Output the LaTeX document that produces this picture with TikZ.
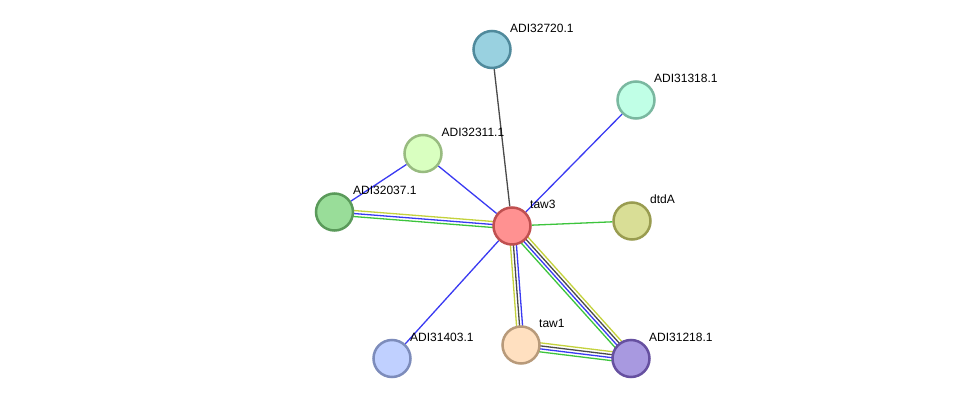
\documentclass[tikz,border=0pt]{standalone}
\usepackage{fontspec}
\setmainfont{Liberation Sans}
\usetikzlibrary{calc,backgrounds}
\definecolor{eyel}{HTML}{C4D23C}
\definecolor{eblu}{HTML}{3A3AF2}
\definecolor{egrn}{HTML}{3CC43C}
\definecolor{eblk}{HTML}{4A4A4A}
\tikzset{
  prot/.style={circle,minimum size=37pt,inner sep=0pt,line width=2.5pt},
  lab/.style={anchor=west,inner sep=0pt,font=\fontsize{12}{14}\selectfont},
  edge/.style={line width=1.3pt}
}
\newcommand\pedge[4]{\draw[edge,#4] ($(#1)!#3!90:(#2)$) -- ($(#2)!#3!-90:(#1)$);}
\begin{document}
\begin{tikzpicture}[x=1pt,y=-1pt]
\useasboundingbox (0,0) rectangle (975,404);
\node[prot,fill={rgb,255:red,153;green,209;blue,224},draw={rgb,255:red,80;green,138;blue,156}] (a20) at (492,49.5) {};
\node[prot,fill={rgb,255:red,192;green,255;blue,230},draw={rgb,255:red,122;green,184;blue,160}] (a18) at (636,100) {};
\node[prot,fill={rgb,255:red,217;green,255;blue,192},draw={rgb,255:red,152;green,187;blue,128}] (a11) at (423,153.5) {};
\node[prot,fill={rgb,255:red,153;green,221;blue,153},draw={rgb,255:red,90;green,154;blue,90}] (a37) at (334.5,212) {};
\node[prot,fill={rgb,255:red,255;green,145;blue,145},draw={rgb,255:red,192;green,80;blue,80}] (t3) at (512,226) {};
\node[prot,fill={rgb,255:red,217;green,222;blue,150},draw={rgb,255:red,153;green,156;blue,80}] (dt) at (632,221) {};
\node[prot,fill={rgb,255:red,192;green,208;blue,255},draw={rgb,255:red,125;green,140;blue,187}] (a03) at (392,358.5) {};
\node[prot,fill={rgb,255:red,255;green,224;blue,192},draw={rgb,255:red,184;green,154;blue,122}] (t1) at (521,345) {};
\node[prot,fill={rgb,255:red,168;green,153;blue,224},draw={rgb,255:red,102;green,80;blue,160}] (a21) at (631,358.5) {};
\begin{scope}[on background layer]
\fill[white] (0,0) rectangle (975,404);
\draw[edge,eblk] (t3) -- (a20);
\draw[edge,eblu] (t3) -- (a18);
\draw[edge,eblu] (t3) -- (a11);
\draw[edge,eblu] (a11) -- (a37);
\draw[edge,eblu] (t3) -- (a03);
\draw[edge,egrn] (t3) -- (dt);
\pedge{t3}{a37}{-3pt}{eyel}
\pedge{t3}{a37}{0pt}{eblu}
\pedge{t3}{a37}{3pt}{egrn}
\pedge{t3}{t1}{-3pt}{eyel}
\pedge{t3}{t1}{0pt}{eblk}
\pedge{t3}{t1}{3pt}{eblu}
\pedge{t3}{a21}{4.5pt}{eyel}
\pedge{t3}{a21}{1.5pt}{eblk}
\pedge{t3}{a21}{-1.5pt}{eblu}
\pedge{t3}{a21}{-4.5pt}{egrn}
\pedge{t1}{a21}{4.5pt}{eyel}
\pedge{t1}{a21}{1.5pt}{eblk}
\pedge{t1}{a21}{-1.5pt}{eblu}
\pedge{t1}{a21}{-4.5pt}{egrn}
\end{scope}
\node[lab] (l20) at (510,28) {ADI32720.1};
\node[lab] (l18) at (654,78) {ADI31318.1};
\node[lab] (l11) at (441.5,132) {ADI32311.1};
\node[lab] (l37) at (353,190) {ADI32037.1};
\node[lab] (l3) at (530,204.5) {taw3};
\node[lab] (ldt) at (650,199.5) {dtdA};
\node[lab] (l03) at (410,337) {ADI31403.1};
\node[lab] (l1) at (539,323.5) {taw1};
\node[lab] (l21) at (649,337) {ADI31218.1};
\end{tikzpicture}
\end{document}
